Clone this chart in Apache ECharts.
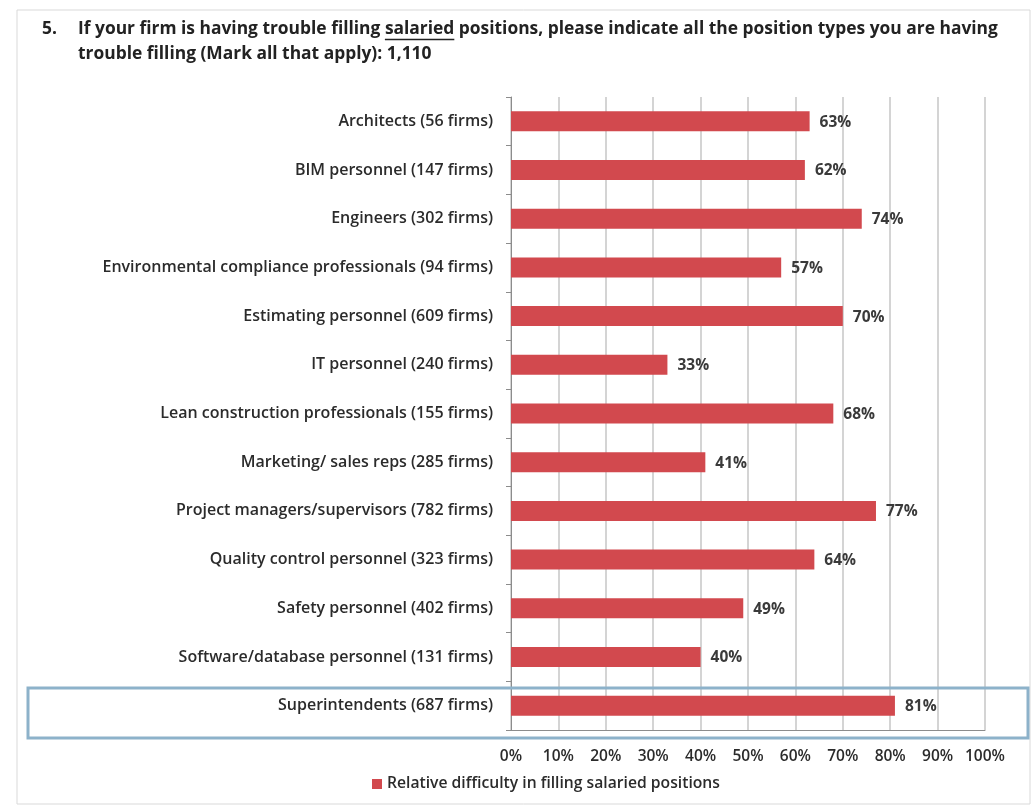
<!DOCTYPE html>
<html>
<head>
<meta charset="utf-8">
<script src="https://cdn.jsdelivr.net/npm/echarts@6/dist/echarts.min.js"></script>
<style>
  html, body { margin: 0; padding: 0; background: #fff; }
  #chart { width: 1034px; height: 809px; }
</style>
</head>
<body>
<div id="chart"></div>
<script>
const categories = [
    'Architects (56 firms)',
    'BIM personnel (147 firms)',
    'Engineers (302 firms)',
    'Environmental compliance professionals (94 firms)',
    'Estimating personnel (609 firms)',
    'IT personnel (240 firms)',
    'Lean construction professionals (155 firms)',
    'Marketing/ sales reps (285 firms)',
    'Project managers/supervisors (782 firms)',
    'Quality control personnel (323 firms)',
    'Safety personnel (402 firms)',
    'Software/database personnel (131 firms)',
    'Superintendents (687 firms)'
];
const difficulty = [63, 62, 74, 57, 70, 33, 68, 41, 77, 64, 49, 40, 81];
const seriesName = 'Relative difficulty in filling salaried positions';

const FONT = '"Open Sans", "Liberation Sans", Arial, sans-serif';
const TEXT = '#2b2b2b';

// measure where the underlined word sits in the title
const titleBefore = 'If your firm is having trouble filling ';
const titleWord = 'salaried';
const titleAfter = ' positions, please indicate all the position types you are having';
const titleFont = 'bold 17.4px ' + FONT;
const ctx = document.createElement('canvas').getContext('2d');
ctx.font = titleFont;
const beforeW = ctx.measureText(titleBefore).width;
const wordW = ctx.measureText(titleWord).width;

const chart = echarts.init(document.getElementById('chart'));

const option = {
    animation: false,
    grid: { left: 511, right: 49, top: 97, bottom: 79, containLabel: false },
    legend: {
        data: [seriesName],
        left: 367,
        top: 771,
        icon: 'rect',
        itemWidth: 10,
        itemHeight: 10,
        itemGap: 5,
        textStyle: { color: TEXT, fontSize: 15.7, fontWeight: 600, fontFamily: FONT }
    },
    xAxis: {
        type: 'value',
        min: 0,
        max: 100,
        interval: 10,
        axisLine: { show: true, lineStyle: { color: '#8c8c8c', width: 1 } },
        axisTick: { show: false },
        splitLine: { show: true, lineStyle: { color: '#d4d4d4', width: 2 } },
        axisLabel: {
            formatter: '{value}%',
            color: TEXT,
            fontSize: 15.5,
            fontWeight: 600,
            fontFamily: FONT,
            margin: 19
        }
    },
    yAxis: {
        type: 'category',
        data: categories,
        inverse: true,
        axisLine: { show: true, lineStyle: { color: '#8c8c8c', width: 1 } },
        axisTick: { show: true, length: 5, lineStyle: { color: '#8c8c8c' } },
        axisLabel: {
            color: TEXT,
            fontSize: 16,
            fontWeight: 600,
            fontFamily: FONT,
            margin: 18
        },
        splitLine: { show: false }
    },
    series: [{
        name: seriesName,
        type: 'bar',
        data: difficulty,
        barWidth: 20,
        itemStyle: { color: '#d2494e' },
        label: {
            show: true,
            position: 'right',
            distance: 10,
            formatter: '{c}%',
            color: '#3a3a3a',
            fontSize: 15.5,
            fontWeight: 'bold',
            fontFamily: FONT,
            offset: [0, 1]
        }
    }],
    graphic: [
        {
            type: 'rect',
            shape: { x: 17, y: 10, width: 1013, height: 794 },
            style: { fill: 'none', stroke: '#d9d9d9', lineWidth: 1 },
            silent: true
        },
        {
            type: 'text',
            left: 42,
            top: 21,
            style: { text: '5.', font: titleFont, fill: '#222' }
        },
        {
            type: 'text',
            left: 78,
            top: 21,
            style: { text: titleBefore + titleWord + titleAfter, font: titleFont, fill: '#222' }
        },
        {
            type: 'line',
            shape: { x1: 78 + beforeW, y1: 39.5, x2: 78 + beforeW + wordW, y2: 39.5 },
            style: { stroke: '#222', lineWidth: 1.5 }
        },
        {
            type: 'text',
            left: 78,
            top: 46,
            style: { text: 'trouble filling (Mark all that apply): 1,110', font: titleFont, fill: '#222' }
        },
        {
            type: 'rect',
            z: 100,
            shape: { x: 28, y: 688, width: 1000, height: 50 },
            style: { fill: 'none', stroke: '#8db2ca', lineWidth: 3 },
            silent: true
        }
    ]
};

chart.setOption(option);
</script>
</body>
</html>
